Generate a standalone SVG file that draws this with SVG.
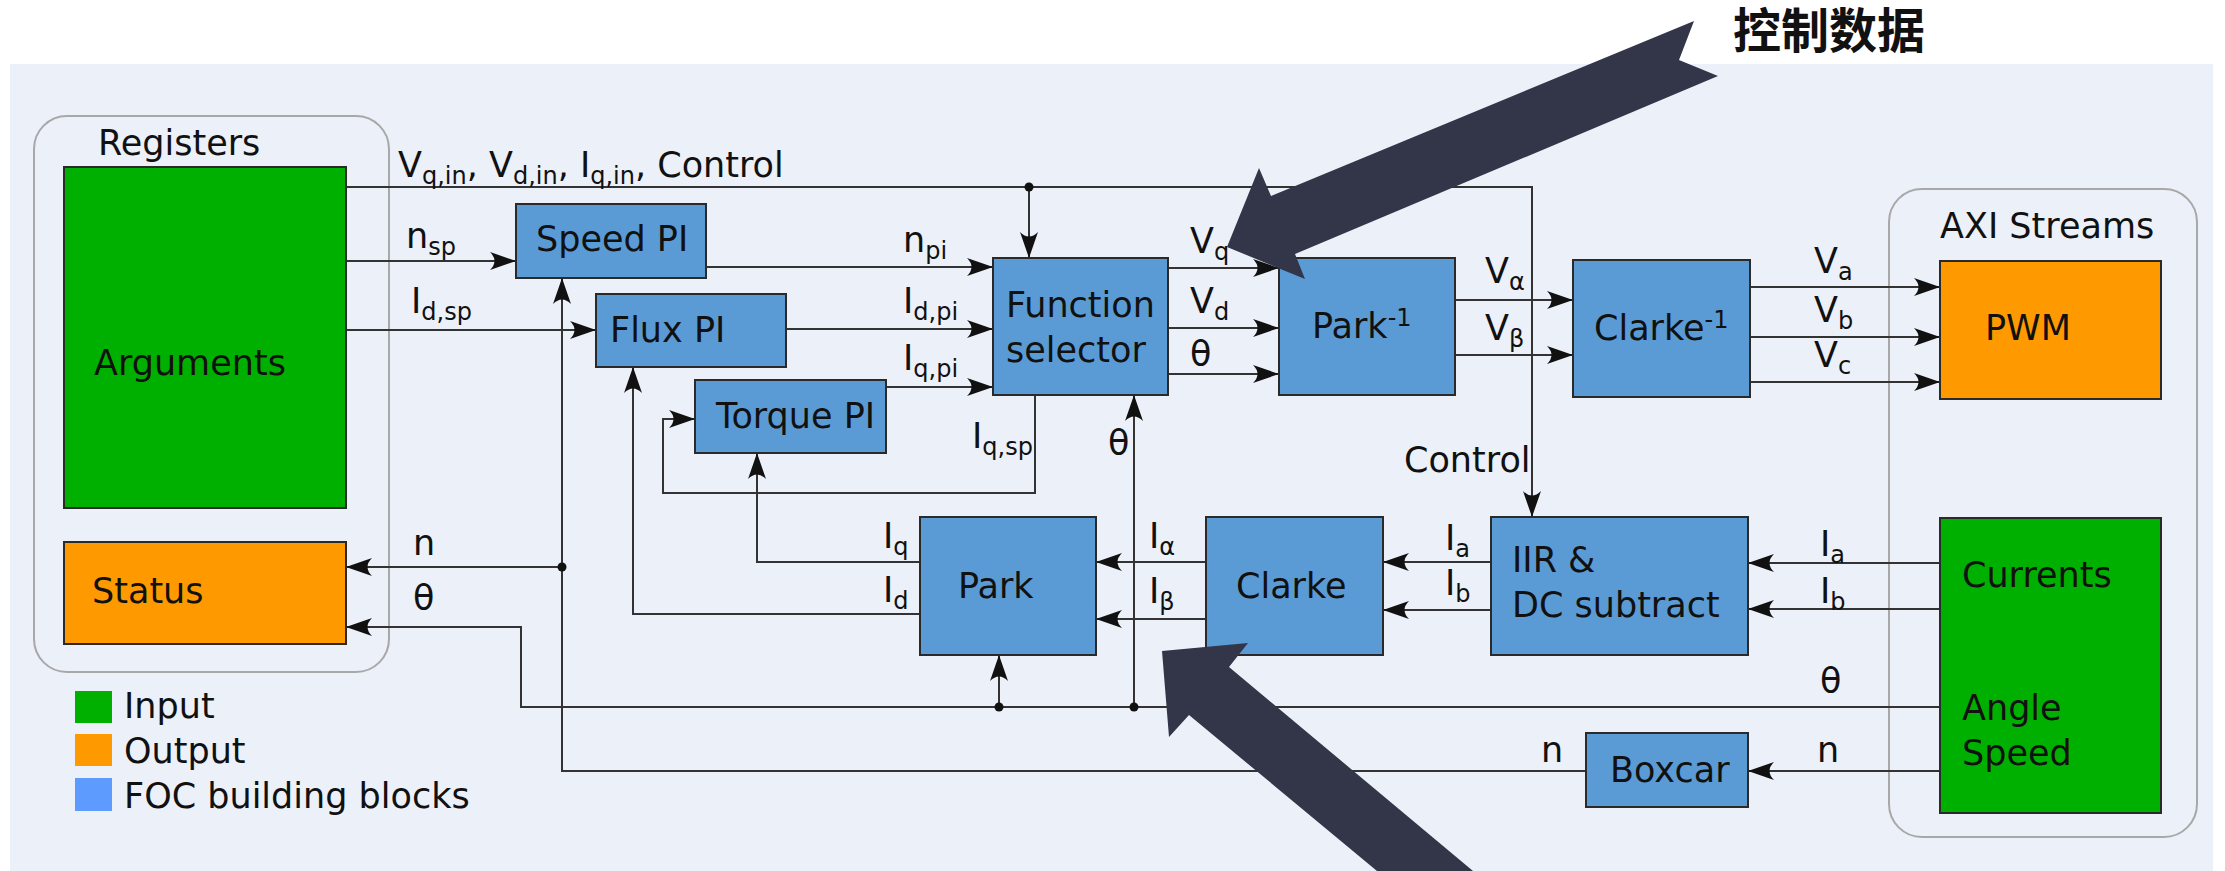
<svg xmlns="http://www.w3.org/2000/svg" width="2225" height="871" viewBox="0 0 2225 871">
<defs>
<style>
text{font-family:"DejaVu Sans","Liberation Sans",sans-serif;font-size:35px;fill:#111}
.blk{fill:#5B9BD5;stroke:#2a2a2a;stroke-width:2}
.in{fill:#00B000;stroke:#2a2a2a;stroke-width:2}
.out{fill:#FF9900;stroke:#2a2a2a;stroke-width:2}
.grp{fill:none;stroke:#A8A8A8;stroke-width:2}
.w{fill:none;stroke:#333;stroke-width:2}
.a{marker-end:url(#ah)}
.dot{fill:#111;stroke:none}
.big{fill:#323648}
.s{font-size:24px}
.cjk{font-family:"Noto Sans CJK SC","Noto Sans",sans-serif;font-size:48px;font-weight:bold}
</style>
<marker id="ah" viewBox="-28 -10 30 20" refX="0" refY="0" markerWidth="30" markerHeight="20" markerUnits="userSpaceOnUse" orient="auto">
<path d="M0,0 L-26,-9 Q-17,0 -26,9 Z" fill="#111"/>
</marker>
</defs>
<rect width="2225" height="871" fill="#ffffff"/>
<rect x="10" y="64" width="2203" height="807" fill="#ECF0F8"/>

<g id="registers">
<rect class="grp" x="34" y="116" width="355" height="556" rx="33"/>
<text x="98" y="155">Registers</text>
</g>
<g id="axi-streams">
<rect class="grp" x="1889" y="189" width="308" height="648" rx="33"/>
<text x="1940" y="238">AXI Streams</text>
</g>

<g id="connectors" class="w">
<path class="a" d="M346,187 H1532 V517"/>
<path class="a" d="M1029,187 V258"/>
<path class="a" d="M346,261 H516"/>
<path class="a" d="M346,330 H596"/>
<path class="a" d="M706,267 H993"/>
<path class="a" d="M786,329 H993"/>
<path class="a" d="M886,387 H993"/>
<path class="a" d="M1035,395 V493 H663 V419 H695"/>
<path class="a" d="M1168,268 H1279"/>
<path class="a" d="M1168,328 H1279"/>
<path class="a" d="M1168,374 H1279"/>
<path class="a" d="M1455,300 H1573"/>
<path class="a" d="M1455,355 H1573"/>
<path class="a" d="M1750,287 H1940"/>
<path class="a" d="M1750,337 H1940"/>
<path class="a" d="M1750,382 H1940"/>
<path class="a" d="M1940,563 H1748"/>
<path class="a" d="M1940,609 H1748"/>
<path class="a" d="M1491,562 H1383"/>
<path class="a" d="M1491,610 H1383"/>
<path class="a" d="M1206,562 H1096"/>
<path class="a" d="M1206,619 H1096"/>
<path class="a" d="M920,562 H757 V453"/>
<path class="a" d="M920,614 H633 V367"/>
<path class="a" d="M1940,707 H521 V627 H346"/>
<path class="a" d="M999,707 V655"/>
<path class="a" d="M1134,707 V395"/>
<path class="a" d="M1940,771 H1748"/>
<path class="a" d="M1586,771 H562 V278"/>
<path class="a" d="M562,567 H346"/>
<circle class="dot" cx="1029" cy="187" r="4.5"/>
<circle class="dot" cx="562" cy="567" r="4.5"/>
<circle class="dot" cx="999" cy="707" r="4.5"/>
<circle class="dot" cx="1134" cy="707" r="4.5"/>
</g>

<g id="connector-labels">
<text x="398" y="177">V<tspan class="s" dy="7">q,in</tspan><tspan dy="-7">, V</tspan><tspan class="s" dy="7">d,in</tspan><tspan dy="-7">, I</tspan><tspan class="s" dy="7">q,in</tspan><tspan dy="-7">, Control</tspan></text>
<text x="406" y="248">n<tspan class="s" dy="7">sp</tspan></text>
<text x="411" y="313">I<tspan class="s" dy="7">d,sp</tspan></text>
<text x="903" y="252">n<tspan class="s" dy="7">pi</tspan></text>
<text x="903" y="313">I<tspan class="s" dy="7">d,pi</tspan></text>
<text x="903" y="370">I<tspan class="s" dy="7">q,pi</tspan></text>
<text x="972" y="448">I<tspan class="s" dy="7">q,sp</tspan></text>
<text x="1190" y="253">V<tspan class="s" dy="7">q</tspan></text>
<text x="1190" y="313">V<tspan class="s" dy="7">d</tspan></text>
<text x="1190" y="366">θ</text>
<text x="1485" y="283">V<tspan class="s" dy="7">α</tspan></text>
<text x="1485" y="340">V<tspan class="s" dy="7">β</tspan></text>
<text x="1814" y="273">V<tspan class="s" dy="7">a</tspan></text>
<text x="1814" y="322">V<tspan class="s" dy="7">b</tspan></text>
<text x="1814" y="367">V<tspan class="s" dy="7">c</tspan></text>
<text x="1820" y="556">I<tspan class="s" dy="7">a</tspan></text>
<text x="1820" y="603">I<tspan class="s" dy="7">b</tspan></text>
<text x="1445" y="550">I<tspan class="s" dy="7">a</tspan></text>
<text x="1445" y="595">I<tspan class="s" dy="7">b</tspan></text>
<text x="1149" y="548">I<tspan class="s" dy="7">α</tspan></text>
<text x="1149" y="603">I<tspan class="s" dy="7">β</tspan></text>
<text x="883" y="548">I<tspan class="s" dy="7">q</tspan></text>
<text x="883" y="602">I<tspan class="s" dy="7">d</tspan></text>
<text x="1404" y="472">Control</text>
<text x="1820" y="693">θ</text>
<text x="1108" y="455">θ</text>
<text x="413" y="610">θ</text>
<text x="1817" y="762">n</text>
<text x="1541" y="762">n</text>
<text x="413" y="555">n</text>
</g>

<g id="arguments">
<rect class="in" x="64" y="167" width="282" height="341"/>
<text x="94" y="375">Arguments</text>
</g>
<g id="status">
<rect class="out" x="64" y="542" width="282" height="102"/>
<text x="92" y="603">Status</text>
</g>
<g id="speed-pi">
<rect class="blk" x="516" y="204" width="190" height="74"/>
<text x="536" y="251">Speed PI</text>
</g>
<g id="flux-pi">
<rect class="blk" x="596" y="294" width="190" height="73"/>
<text x="610" y="342">Flux PI</text>
</g>
<g id="torque-pi">
<rect class="blk" x="695" y="380" width="191" height="73"/>
<text x="716" y="428">Torque PI</text>
</g>
<g id="function-selector">
<rect class="blk" x="993" y="258" width="175" height="137"/>
<text x="1006" y="317">Function</text>
<text x="1006" y="362">selector</text>
</g>
<g id="park-inverse">
<rect class="blk" x="1279" y="258" width="176" height="137"/>
<text x="1312" y="338">Park<tspan class="s" dy="-12">-1</tspan></text>
</g>
<g id="clarke-inverse">
<rect class="blk" x="1573" y="260" width="177" height="137"/>
<text x="1594" y="340">Clarke<tspan class="s" dy="-12">-1</tspan></text>
</g>
<g id="pwm">
<rect class="out" x="1940" y="261" width="221" height="138"/>
<text x="1985" y="340">PWM</text>
</g>
<g id="sensors">
<rect class="in" x="1940" y="518" width="221" height="295"/>
<text x="1962" y="587">Currents</text>
<text x="1962" y="720">Angle</text>
<text x="1962" y="765">Speed</text>
</g>
<g id="iir-dc">
<rect class="blk" x="1491" y="517" width="257" height="138"/>
<text x="1512" y="572">IIR &amp;</text>
<text x="1512" y="617">DC subtract</text>
</g>
<g id="clarke">
<rect class="blk" x="1206" y="517" width="177" height="138"/>
<text x="1236" y="598">Clarke</text>
</g>
<g id="park">
<rect class="blk" x="920" y="517" width="176" height="138"/>
<text x="958" y="598">Park</text>
</g>
<g id="boxcar">
<rect class="blk" x="1586" y="733" width="162" height="74"/>
<text x="1610" y="782">Boxcar</text>
</g>

<g id="legend">
<rect x="75" y="691" width="37" height="32" fill="#00B000"/>
<rect x="75" y="734" width="37" height="32" fill="#FF9900"/>
<rect x="75" y="778" width="37" height="33" fill="#5E9BFF"/>
<text x="124" y="718">Input</text>
<text x="124" y="763">Output</text>
<text x="124" y="808">FOC building blocks</text>
</g>

<g id="callouts">
<polygon class="big" points="1227,247 1259,168 1271,196 1694,21 1679,60 1718,76 1295,254 1305,279"/>
<polygon class="big" points="1162,651 1248,643 1229,667 1473,871 1377,871 1189,715 1169,737"/>
<text class="cjk" x="1733" y="48">控制数据</text>
</g>
</svg>
